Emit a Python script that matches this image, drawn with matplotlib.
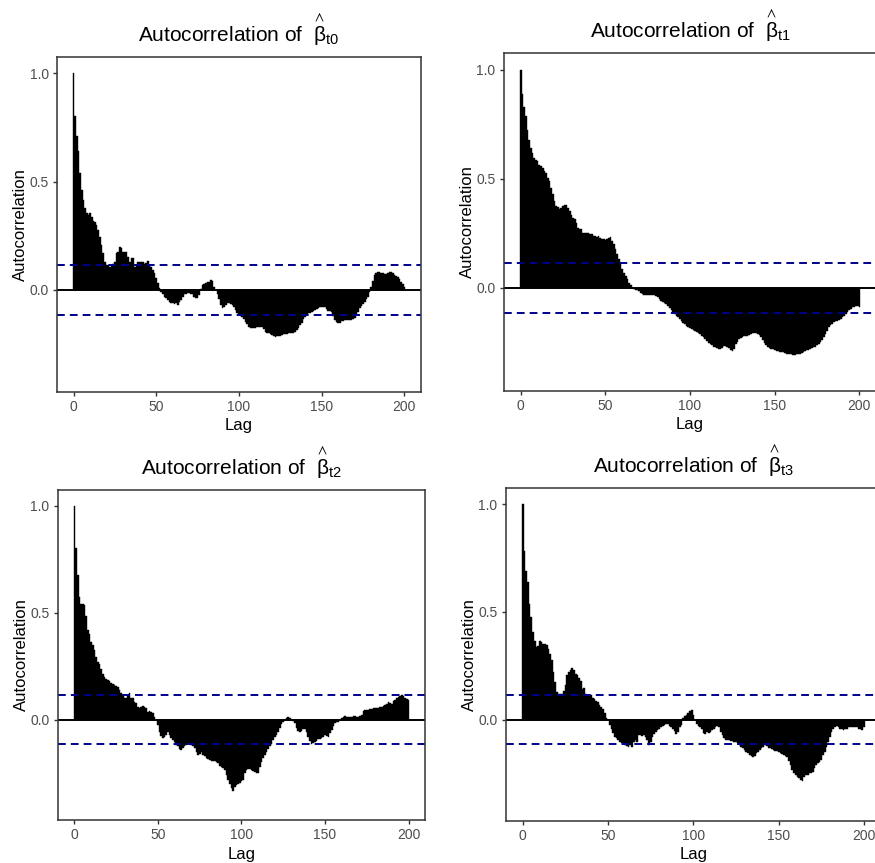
import numpy as np
import matplotlib
matplotlib.use("Agg")
import matplotlib.pyplot as plt

plt.rcParams["font.family"] = ["Liberation Sans", "DejaVu Sans"]
plt.rcParams["mathtext.fontset"] = "custom"
plt.rcParams["mathtext.rm"] = "Liberation Sans"
plt.rcParams["mathtext.default"] = "regular"

lags = np.arange(201)

acf_t0 = [
    1.00, 0.80, 0.71, 0.64, 0.54, 0.46, 0.415, 0.376, 0.353, 0.346,
    0.353, 0.338, 0.32, 0.315, 0.30, 0.277, 0.246, 0.207, 0.169, 0.13,
    0.115, 0.115, 0.108, 0.115, 0.118, 0.13, 0.169, 0.177, 0.20, 0.195,
    0.177, 0.177, 0.177, 0.154, 0.13, 0.149, 0.146, 0.108, 0.115, 0.13,
    0.13, 0.127, 0.13, 0.118, 0.123, 0.134, 0.115, 0.108, 0.092, 0.077,
    0.054, 0.031, 0.008, -0.008, -0.02, -0.031, -0.038, -0.046, -0.054, -0.058,
    -0.061, -0.065, -0.061, -0.069, -0.057, -0.046, -0.031, -0.02, -0.017, -0.015,
    -0.012, -0.018, -0.02, -0.03, -0.038, -0.036, -0.025, 0.005, 0.023, 0.028,
    0.03, 0.035, 0.038, 0.046, 0.042, 0.015, 0.0, -0.02, -0.04, -0.07,
    -0.085, -0.08, -0.069, -0.062, -0.058, -0.063, -0.069, -0.08, -0.092, -0.105,
    -0.115, -0.118, -0.123, -0.135, -0.146, -0.158, -0.169, -0.175, -0.177, -0.176,
    -0.174, -0.17, -0.169, -0.17, -0.172, -0.182, -0.192, -0.197, -0.2, -0.204,
    -0.207, -0.212, -0.215, -0.214, -0.212, -0.21, -0.207, -0.205, -0.204, -0.202,
    -0.2, -0.2, -0.2, -0.197, -0.192, -0.185, -0.177, -0.162, -0.15, -0.135,
    -0.123, -0.115, -0.108, -0.104, -0.1, -0.096, -0.092, -0.088, -0.085, -0.08,
    -0.077, -0.078, -0.08, -0.088, -0.095, -0.098, -0.1, -0.12, -0.138, -0.148,
    -0.154, -0.15, -0.145, -0.141, -0.14, -0.138, -0.136, -0.137, -0.138, -0.135,
    -0.131, -0.115, -0.1, -0.085, -0.074, -0.064, -0.054, -0.042, -0.031, -0.01,
    0.015, 0.04, 0.069, 0.078, 0.085, 0.083, 0.08, 0.077, 0.074, 0.076,
    0.077, 0.082, 0.085, 0.078, 0.069, 0.065, 0.061, 0.05, 0.038, 0.028,
    0.015,
]

acf_t1 = [
    1.0, 0.89, 0.83, 0.786, 0.725, 0.677, 0.64, 0.619, 0.596, 0.588,
    0.58, 0.565, 0.558, 0.55, 0.535, 0.527, 0.504, 0.489, 0.459, 0.428,
    0.398, 0.375, 0.37, 0.36, 0.367, 0.375, 0.382, 0.378, 0.367, 0.352,
    0.336, 0.321, 0.314, 0.298, 0.275, 0.272, 0.268, 0.25, 0.25, 0.253,
    0.25, 0.248, 0.245, 0.24, 0.237, 0.235, 0.237, 0.23, 0.225, 0.222,
    0.219, 0.225, 0.23, 0.234, 0.214, 0.2, 0.177, 0.154, 0.131, 0.108,
    0.088, 0.07, 0.055, 0.04, 0.024, 0.012, 0.001, -0.006, -0.01, -0.01,
    -0.015, -0.022, -0.028, -0.03, -0.031, -0.031, -0.03, -0.032, -0.031, -0.033,
    -0.038, -0.043, -0.05, -0.058, -0.064, -0.07, -0.075, -0.081, -0.09, -0.1,
    -0.11, -0.119, -0.127, -0.135, -0.143, -0.15, -0.158, -0.165, -0.172, -0.178,
    -0.182, -0.188, -0.193, -0.196, -0.2, -0.205, -0.212, -0.218, -0.226, -0.235,
    -0.242, -0.25, -0.256, -0.262, -0.268, -0.272, -0.275, -0.279, -0.28, -0.275,
    -0.266, -0.264, -0.27, -0.275, -0.282, -0.287, -0.278, -0.258, -0.245, -0.235,
    -0.228, -0.224, -0.222, -0.222, -0.218, -0.215, -0.212, -0.208, -0.205, -0.207,
    -0.21, -0.217, -0.225, -0.238, -0.25, -0.26, -0.268, -0.273, -0.277, -0.279,
    -0.284, -0.287, -0.29, -0.293, -0.294, -0.295, -0.297, -0.3, -0.301, -0.302,
    -0.303, -0.305, -0.305, -0.304, -0.302, -0.3, -0.297, -0.293, -0.29, -0.285,
    -0.282, -0.279, -0.275, -0.272, -0.268, -0.262, -0.256, -0.248, -0.238, -0.226,
    -0.21, -0.195, -0.18, -0.17, -0.163, -0.157, -0.153, -0.15, -0.147, -0.14,
    -0.134, -0.128, -0.12, -0.108, -0.1, -0.094, -0.088, -0.086, -0.083, -0.081,
    -0.085,
]

acf_t2 = [
    1.0, 0.804, 0.675, 0.572, 0.541, 0.541, 0.536, 0.486, 0.417, 0.401,
    0.362, 0.347, 0.324, 0.293, 0.269, 0.262, 0.238, 0.215, 0.199, 0.192,
    0.184, 0.179, 0.169, 0.165, 0.161, 0.158, 0.153, 0.138, 0.122, 0.114,
    0.099, 0.102, 0.114, 0.122, 0.099, 0.102, 0.083, 0.076, 0.06, 0.052,
    0.06, 0.065, 0.06, 0.052, 0.037, 0.04, 0.037, 0.03, 0.014, -0.002,
    -0.025, -0.056, -0.075, -0.084, -0.08, -0.071, -0.056, -0.071, -0.087, -0.095,
    -0.106, -0.118, -0.126, -0.137, -0.141, -0.134, -0.126, -0.118, -0.11, -0.113,
    -0.118, -0.122, -0.135, -0.15, -0.166, -0.16, -0.152, -0.165, -0.17, -0.18,
    -0.186, -0.19, -0.192, -0.193, -0.193, -0.198, -0.205, -0.215, -0.224, -0.228,
    -0.235, -0.26, -0.282, -0.3, -0.321, -0.332, -0.315, -0.305, -0.3, -0.295,
    -0.288, -0.283, -0.25, -0.236, -0.23, -0.233, -0.238, -0.24, -0.244, -0.248,
    -0.252, -0.22, -0.197, -0.18, -0.166, -0.15, -0.136, -0.125, -0.112, -0.095,
    -0.081, -0.07, -0.058, -0.04, -0.022, -0.01, 0.0, 0.008, 0.012, 0.006,
    0.0, -0.008, -0.015, -0.04, -0.055, -0.058, -0.055, -0.045, -0.042, -0.06,
    -0.081, -0.1, -0.115, -0.108, -0.104, -0.098, -0.093, -0.09, -0.088, -0.08,
    -0.073, -0.078, -0.081, -0.065, -0.05, -0.03, -0.016, -0.012, -0.011, 0.0,
    0.005, 0.01, 0.016, 0.014, 0.013, 0.012, 0.014, 0.015, 0.016, 0.014,
    0.012, 0.015, 0.02, 0.04, 0.047, 0.045, 0.047, 0.049, 0.051, 0.053,
    0.056, 0.055, 0.056, 0.058, 0.059, 0.062, 0.067, 0.075, 0.082, 0.078,
    0.074, 0.085, 0.093, 0.1, 0.105, 0.11, 0.113, 0.108, 0.102, 0.097,
    0.093,
]

acf_t3 = [
    1.0, 0.784, 0.69, 0.637, 0.537, 0.475, 0.406, 0.367, 0.336, 0.34,
    0.367, 0.36, 0.352, 0.349, 0.344, 0.329, 0.306, 0.275, 0.221, 0.174,
    0.128, 0.117, 0.117, 0.12, 0.133, 0.159, 0.205, 0.221, 0.228, 0.241,
    0.228, 0.213, 0.205, 0.194, 0.179, 0.144, 0.148, 0.12, 0.113, 0.108,
    0.113, 0.102, 0.093, 0.086, 0.082, 0.066, 0.059, 0.051, 0.028, 0.009,
    -0.003, -0.026, -0.042, -0.062, -0.08, -0.088, -0.096, -0.103, -0.111, -0.114,
    -0.119, -0.123, -0.127, -0.119, -0.127, -0.103, -0.096, -0.103, -0.073, -0.073,
    -0.077, -0.073, -0.083, -0.096, -0.119, -0.103, -0.08, -0.065, -0.057, -0.049,
    -0.042, -0.034, -0.031, -0.026, -0.019, -0.022, -0.031, -0.037, -0.046, -0.052,
    -0.065, -0.057, -0.037, -0.026, 0.005, 0.015, 0.02, 0.031, 0.04, 0.043,
    0.02, 0.0, -0.019, -0.031, -0.037, -0.046, -0.062, -0.065, -0.057, -0.062,
    -0.057, -0.049, -0.046, -0.037, -0.031, -0.037, -0.057, -0.073, -0.088, -0.093,
    -0.096, -0.096, -0.099, -0.099, -0.103, -0.103, -0.111, -0.119, -0.127, -0.134,
    -0.142, -0.15, -0.157, -0.165, -0.17, -0.173, -0.17, -0.157, -0.15, -0.142,
    -0.134, -0.127, -0.119, -0.124, -0.13, -0.134, -0.139, -0.142, -0.145, -0.148,
    -0.15, -0.154, -0.16, -0.165, -0.17, -0.173, -0.191, -0.211, -0.235, -0.25,
    -0.258, -0.269, -0.273, -0.281, -0.284, -0.269, -0.258, -0.258, -0.25, -0.247,
    -0.242, -0.227, -0.211, -0.2, -0.196, -0.188, -0.165, -0.15, -0.127, -0.103,
    -0.08, -0.057, -0.042, -0.034, -0.031, -0.034, -0.042, -0.046, -0.049, -0.046,
    -0.042, -0.037, -0.034, -0.037, -0.037, -0.034, -0.037, -0.042, -0.046, -0.049,
    -0.034,
]

titles = [r"Autocorrelation of  $\overset{\wedge}{\beta}_{t0}$",
          r"Autocorrelation of  $\overset{\wedge}{\beta}_{t1}$",
          r"Autocorrelation of  $\overset{\wedge}{\beta}_{t2}$",
          r"Autocorrelation of  $\overset{\wedge}{\beta}_{t3}$"]
series = [acf_t0, acf_t1, acf_t2, acf_t3]
conf_bound = 0.113

# panel boxes in figure fractions: left, bottom, width, height
positions = [
    (0.0651, 0.5458, 0.4160, 0.3882),
    (0.5757, 0.5473, 0.4258, 0.3909),
    (0.0659, 0.0498, 0.4201, 0.3824),
    (0.5780, 0.0490, 0.4289, 0.3852),
]

fig = plt.figure(figsize=(8.75, 8.63), dpi=100)

for title, vals, pos in zip(titles, series, positions):
    ax = fig.add_axes(pos)
    ax.bar(lags, vals, width=1.0, color="black", edgecolor="black", linewidth=0.3)
    ax.axhline(0, color="black", linewidth=1.4)
    for b in (conf_bound, -conf_bound):
        ax.axhline(b, color="#00008B", linewidth=1.4, linestyle=(0, (4, 2.6)))
    ax.set_xlim(-10, 210)
    ax.set_ylim(-0.47, 1.074)
    ax.set_xticks([0, 50, 100, 150, 200])
    ax.set_yticks([0.0, 0.5, 1.0])
    ax.set_yticklabels(["0.0", "0.5", "1.0"])
    for s in ax.spines.values():
        s.set_color("#333333")
        s.set_linewidth(1.1)
    ax.tick_params(direction="out", length=3, width=1.0, color="#333333",
                   labelcolor="#4D4D4D", labelsize=10, pad=3)
    ax.set_xlabel("Lag", fontsize=12, labelpad=3)
    ax.set_ylabel("Autocorrelation", fontsize=12, labelpad=1)
    ax.set_title(title, fontsize=15, pad=11)

fig.savefig("out.png", dpi=100)
